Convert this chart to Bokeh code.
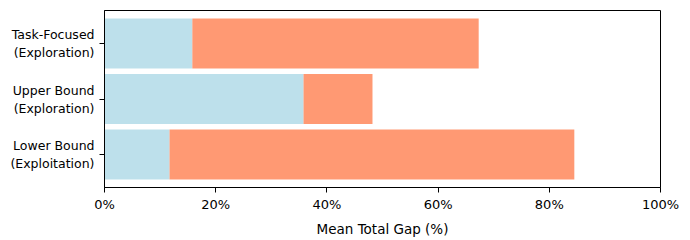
from bokeh.plotting import figure
from bokeh.models import FactorRange, FixedTicker, PrintfTickFormatter, ColumnDataSource
from bokeh.embed import file_html
from bokeh.resources import INLINE

categories = ["Lower Bound\n(Exploitation)", "Upper Bound\n(Exploration)", "Task-Focused\n(Exploration)"]
part1 = [11.7, 35.8, 15.8]   # light blue segment (%)
part2 = [72.8, 12.4, 51.5]   # coral segment (%)
x_ticks = [0, 20, 40, 60, 80, 100]

left2 = part1
right2 = [a + b for a, b in zip(part1, part2)]

src = ColumnDataSource(dict(cat=categories, p1=part1, l2=left2, r2=right2, zero=[0] * len(categories)))

p = figure(
    y_range=FactorRange(factors=categories, range_padding=0.095, range_padding_units="absolute"),
    x_range=(0, 100),
    frame_width=556, frame_height=177,
    min_border_left=104, min_border_right=22, min_border_top=10, min_border_bottom=45,
    output_backend="svg", toolbar_location=None,
)

p.hbar(y="cat", left="zero", right="p1", height=0.9, source=src,
       fill_color="#ADD8E6", fill_alpha=0.8, line_color=None)
p.hbar(y="cat", left="l2", right="r2", height=0.9, source=src,
       fill_color="#FF7F50", fill_alpha=0.8, line_color=None)

p.xgrid.grid_line_color = None
p.ygrid.grid_line_color = None
p.outline_line_color = "black"
p.outline_line_alpha = 1
p.outline_line_width = 1

p.xaxis.ticker = FixedTicker(ticks=x_ticks)
p.xaxis.formatter = PrintfTickFormatter(format="%d%%")
p.xaxis.axis_label = "Mean Total Gap (%)"
p.xaxis.axis_label_text_font = "DejaVu Sans"
p.xaxis.axis_label_text_font_style = "normal"
p.xaxis.axis_label_text_font_size = "13.5px"
p.xaxis.axis_label_text_color = "black"
p.xaxis.axis_label_standoff = 6
p.xaxis.minor_tick_line_color = None

for ax in (p.xaxis, p.yaxis):
    ax.major_label_text_font = "DejaVu Sans"
    ax.major_label_text_color = "black"
    ax.axis_line_color = "black"
    ax.major_tick_line_color = "black"
    ax.major_tick_in = 0
    ax.major_tick_out = 5
    ax.major_label_standoff = 4
p.xaxis.major_label_text_font_size = "13px"
p.yaxis.major_label_text_font_size = "12.5px"
p.yaxis.major_label_standoff = 5

open("out.html", "w").write(file_html(p, INLINE))
